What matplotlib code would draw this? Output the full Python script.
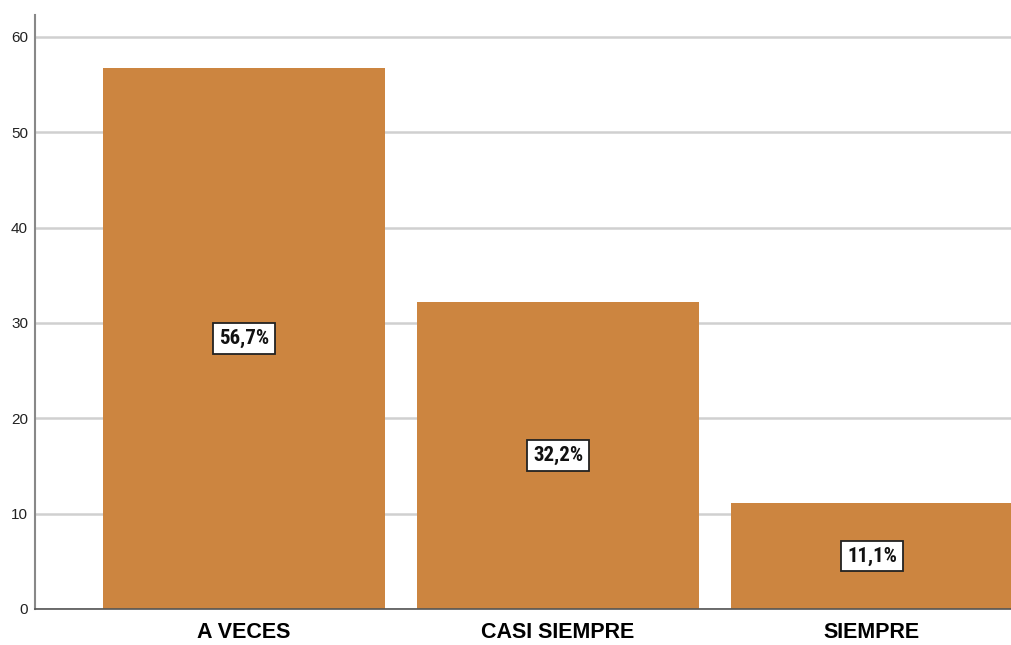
import matplotlib.pyplot as plt

categorias = ["A VECES", "CASI SIEMPRE", "SIEMPRE"]
porcentajes = [56.7, 32.2, 11.1]
etiquetas = ["56,7%", "32,2%", "11,1%"]

fig = plt.figure(figsize=(10.11, 6.45), dpi=100)
ax = fig.add_axes([35 / 1011, 36 / 645, 1 - 35 / 1011, (609 - 15) / 645])

pos = range(len(categorias))
ax.bar(pos, porcentajes, width=0.898, color="#CC8540", zorder=2)

# porcentaje en una caja blanca a media altura de cada barra
for x, v, t in zip(pos, porcentajes, etiquetas):
    ax.text(x, v / 2, t, ha="center", va="center", fontsize=15,
            fontweight="bold", family=["Roboto Condensed", "DejaVu Sans"], zorder=3,
            color="#111111",
            bbox=dict(boxstyle="square,pad=0.28", fc="white", ec="#222222", lw=1.3))

ax.set_xlim(-0.666, 2.443)
ax.set_ylim(0, 62.3)
ax.set_yticks([0, 10, 20, 30, 40, 50, 60])
ax.set_yticklabels([str(v) for v in ax.get_yticks().astype(int)], family="Liberation Sans", fontsize=11)
ax.set_xticks(list(pos))
ax.set_xticklabels(categorias, fontsize=15.5, fontweight="bold", family="Liberation Sans")
ax.tick_params(axis="y", length=0, pad=5, colors="#222222")
ax.tick_params(axis="x", length=0, pad=9)
ax.grid(axis="y", color="#D0D0D0", lw=1.8, zorder=1)

for s in ["top", "right"]:
    ax.spines[s].set_visible(False)
ax.spines["left"].set_color("#888888")
ax.spines["left"].set_linewidth(1.5)
ax.spines["bottom"].set_color("#555555")
ax.spines["bottom"].set_linewidth(1.2)

fig.savefig("out.png", dpi=100)
